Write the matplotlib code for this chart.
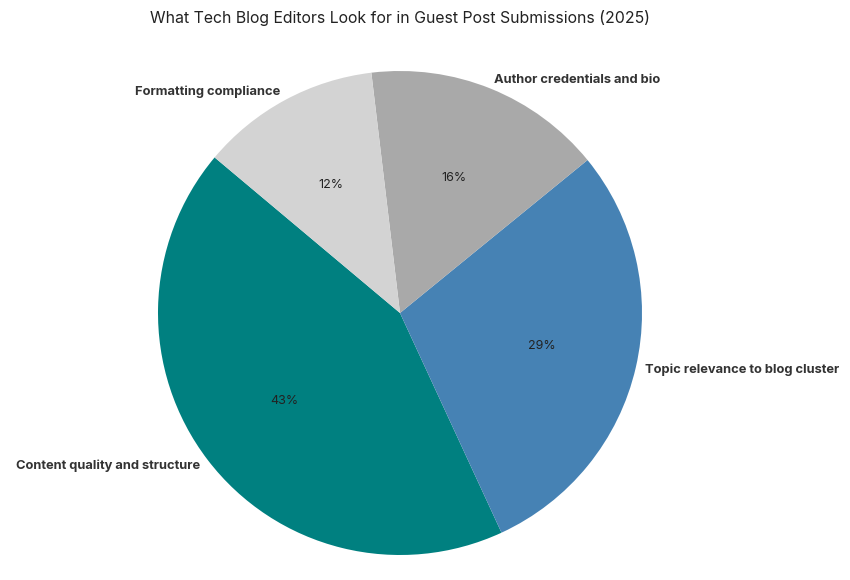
import matplotlib
matplotlib.use("Agg")
import matplotlib.pyplot as plt

labels = ["Content quality and structure", "Topic relevance to blog cluster",
          "Author credentials and bio", "Formatting compliance"]
shares = [43, 29, 16, 12]
colors = ["#008080", "#4682B4", "#A9A9A9", "#D3D3D3"]

plt.rcParams['font.family'] = ['Inter', 'DejaVu Sans']

fig = plt.figure(figsize=(8.5, 5.8), dpi=100)
# pie centre at (400, 313) px, radius ~242 px
R = 242
ax = fig.add_axes([(400 - 1.25 * R) / 850, (267 - 1.25 * R) / 580,
                   2.5 * R / 850, 2.5 * R / 580])

wedges, texts, autotexts = ax.pie(
    shares, labels=labels, colors=colors, startangle=140,
    autopct='%1.0f%%', pctdistance=0.6, labeldistance=1.04,
    textprops={'fontsize': 9, 'color': '#333333'})
for t in texts:
    t.set_fontweight('bold')
    t.set_fontsize(9.3)
for t in autotexts:
    t.set_color('#222222')
    t.set_fontsize(9)
ax.set_xlim(-1.25, 1.25)
ax.set_ylim(-1.25, 1.25)

fig.text(400 / 850, 1 - 18 / 580,
         "What Tech Blog Editors Look for in Guest Post Submissions (2025)",
         ha='center', va='center', fontsize=11.4, color='#222222')

fig.savefig("out.png", dpi=100)
